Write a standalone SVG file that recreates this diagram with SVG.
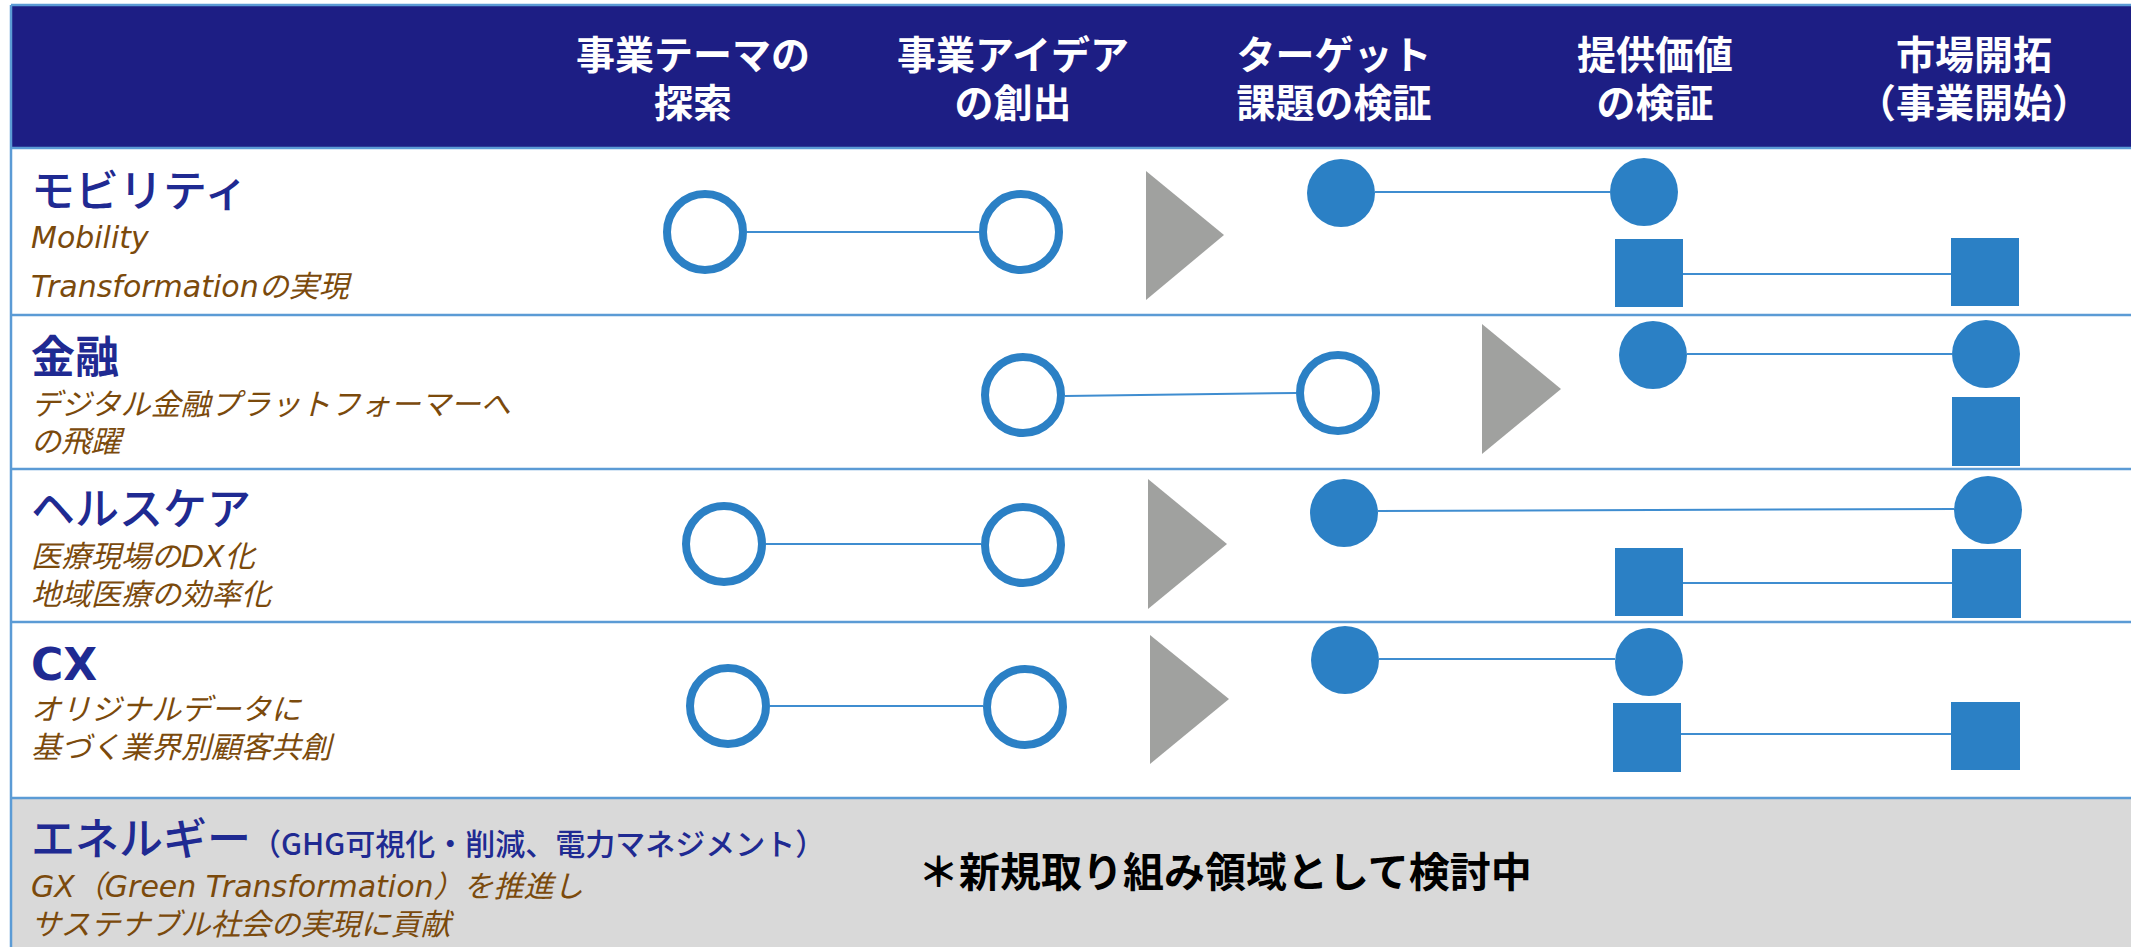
<svg xmlns="http://www.w3.org/2000/svg" width="2131" height="947" viewBox="0 0 2131 947">
<defs>
<style>
.hdr{font-family:"Noto Sans CJK JP","DejaVu Sans",sans-serif;font-weight:bold;font-size:39px;fill:#ffffff;text-anchor:middle}
.ttl{font-family:"DejaVu Sans","Noto Sans CJK JP",sans-serif;font-weight:500;font-size:44px;fill:#1f2a92}
.ttlb{font-weight:bold}
.sub{font-family:"DejaVu Sans","Noto Sans CJK JP",sans-serif;font-style:italic;font-size:30px;fill:#7b4a0c}
.note{font-family:"Noto Sans CJK JP",sans-serif;font-weight:bold;font-size:41px;fill:#000000}
.grid{stroke:#5b9bd5;stroke-width:2.5;fill:none}
.open{fill:#ffffff;stroke:#2b80c5;stroke-width:8}
.full{fill:#2b80c5}
.tri{fill:#a0a19f}
.conn{stroke:#3f8dd0;stroke-width:2;fill:none}
</style>
</defs>
<rect x="0" y="0" width="2131" height="947" fill="#ffffff"/>
<g id="table">
<rect x="11" y="5" width="2120" height="143" fill="#1d1e84"/>
<rect x="11" y="798" width="2120" height="149" fill="#d9d9d9"/>
<line class="grid" x1="11" y1="5" x2="2131" y2="5"/>
<line class="grid" x1="11" y1="148" x2="2131" y2="148"/>
<line class="grid" x1="11" y1="315" x2="2131" y2="315"/>
<line class="grid" x1="11" y1="469" x2="2131" y2="469"/>
<line class="grid" x1="11" y1="622" x2="2131" y2="622"/>
<line class="grid" x1="11" y1="798" x2="2131" y2="798"/>
<line class="grid" x1="11" y1="5" x2="11" y2="947"/>
</g>
<g id="header">
<text class="hdr"><tspan x="693" y="69">事業テーマの</tspan><tspan x="693" y="117">探索</tspan></text>
<text class="hdr"><tspan x="1013" y="69">事業アイデア</tspan><tspan x="1013" y="117">の創出</tspan></text>
<text class="hdr"><tspan x="1334" y="69">ターゲット</tspan><tspan x="1334" y="117">課題の検証</tspan></text>
<text class="hdr"><tspan x="1655" y="69">提供価値</tspan><tspan x="1655" y="117">の検証</tspan></text>
<text class="hdr"><tspan x="1974" y="69">市場開拓</tspan><tspan x="1974" y="117">（事業開始）</tspan></text>
</g>
<g id="label-mobility">
<text class="ttl" x="31" y="207">モビリティ</text>
<text class="sub" x="31" y="248">Mobility</text>
<text class="sub" x="31" y="297">Transformationの実現</text>
</g>
<g id="label-finance">
<text class="ttl ttlb" x="31" y="373">金融</text>
<text class="sub" x="31" y="415">デジタル金融プラットフォーマーへ</text>
<text class="sub" x="31" y="452">の飛躍</text>
</g>
<g id="label-health">
<text class="ttl" x="31" y="525">ヘルスケア</text>
<text class="sub" x="31" y="567">医療現場のDX化</text>
<text class="sub" x="31" y="605">地域医療の効率化</text>
</g>
<g id="label-cx">
<text class="ttl ttlb" x="31" y="680">CX</text>
<text class="sub" x="31" y="720">オリジナルデータに</text>
<text class="sub" x="31" y="758">基づく業界別顧客共創</text>
</g>
<g id="label-energy">
<text class="ttl" x="31" y="855">エネルギー<tspan font-size="30" font-weight="500" font-family="Noto Sans CJK JP, sans-serif">（GHG可視化・削減、電力マネジメント）</tspan></text>
<text class="sub" x="31" y="897">GX（Green Transformation）を推進し</text>
<text class="sub" x="31" y="935">サステナブル社会の実現に貢献</text>
<text class="note" x="918" y="887">＊新規取り組み領域として検討中</text>
</g>
<g id="connectors">
<line class="conn" x1="747" y1="232" x2="979" y2="232"/>
<line class="conn" x1="1375" y1="192" x2="1610" y2="192"/>
<line class="conn" x1="1683" y1="274" x2="1951" y2="274"/>
<line class="conn" x1="1065" y1="396" x2="1296" y2="393"/>
<line class="conn" x1="1687" y1="354" x2="1952" y2="354"/>
<line class="conn" x1="766" y1="544" x2="981" y2="544"/>
<line class="conn" x1="1378" y1="511" x2="1954" y2="509"/>
<line class="conn" x1="1683" y1="583" x2="1952" y2="583"/>
<line class="conn" x1="770" y1="706" x2="983" y2="706"/>
<line class="conn" x1="1379" y1="659" x2="1615" y2="659"/>
<line class="conn" x1="1681" y1="734" x2="1951" y2="734"/>
</g>
<g id="mobility-nodes">
<circle id="m-theme" class="open" cx="705" cy="232" r="38"/>
<circle id="m-idea" class="open" cx="1021" cy="232" r="38"/>
<polygon id="m-arrow" class="tri" points="1146,171 1224,235 1146,300"/>
<ellipse id="m-target" class="full" cx="1341" cy="193" rx="34" ry="34"/>
<ellipse id="m-value" class="full" cx="1644" cy="192" rx="34" ry="34"/>
<rect id="m-value-sq" class="full" x="1615" y="239" width="68" height="68"/>
<rect id="m-market-sq" class="full" x="1951" y="238" width="68" height="68"/>
</g>
<g id="finance-nodes">
<circle id="f-idea" class="open" cx="1023" cy="395" r="38"/>
<circle id="f-target" class="open" cx="1338" cy="393" r="38"/>
<polygon id="f-arrow" class="tri" points="1482,324 1561,389 1482,454"/>
<ellipse id="f-value" class="full" cx="1653" cy="355" rx="34" ry="34"/>
<ellipse id="f-market" class="full" cx="1986" cy="354" rx="34" ry="34"/>
<rect id="f-market-sq" class="full" x="1952" y="397" width="68" height="69"/>
</g>
<g id="health-nodes">
<circle id="h-theme" class="open" cx="724" cy="544" r="38"/>
<circle id="h-idea" class="open" cx="1023" cy="545" r="38"/>
<polygon id="h-arrow" class="tri" points="1148,479 1227,544 1148,609"/>
<ellipse id="h-target" class="full" cx="1344" cy="513" rx="34" ry="34"/>
<ellipse id="h-market" class="full" cx="1988" cy="510" rx="34" ry="34"/>
<rect id="h-value-sq" class="full" x="1615" y="548" width="68" height="68"/>
<rect id="h-market-sq" class="full" x="1952" y="549" width="69" height="69"/>
</g>
<g id="cx-nodes">
<circle id="c-theme" class="open" cx="728" cy="706" r="38"/>
<circle id="c-idea" class="open" cx="1025" cy="707" r="38"/>
<polygon id="c-arrow" class="tri" points="1150,635 1229,699 1150,764"/>
<ellipse id="c-target" class="full" cx="1345" cy="660" rx="34" ry="34"/>
<ellipse id="c-value" class="full" cx="1649" cy="662" rx="34" ry="34"/>
<rect id="c-value-sq" class="full" x="1613" y="703" width="68" height="69"/>
<rect id="c-market-sq" class="full" x="1951" y="702" width="69" height="68"/>
</g>
</svg>
